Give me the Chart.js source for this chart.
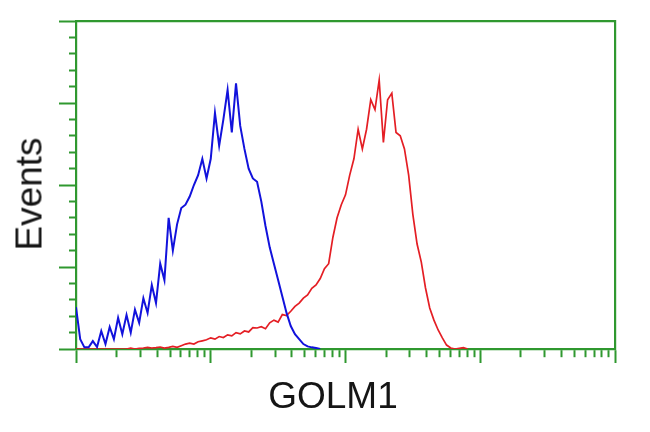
<!DOCTYPE html>
<html>
<head>
<meta charset="utf-8">
<script src="https://cdn.jsdelivr.net/npm/chart.js@4"></script>
<style>
  html, body { margin: 0; padding: 0; background: #ffffff; }
  #wrap { position: relative; width: 650px; height: 432px; overflow: hidden; }
  .axt { position: absolute; font-family: "Liberation Sans", Arial, sans-serif; font-size: 37px; line-height: 37px; color: #151515; white-space: nowrap; transform: translate(-50%, -50%); }
</style>
</head>
<body>
<div id="wrap">
  <canvas id="c" width="650" height="432"></canvas>
  <div class="axt" style="left:333px; top:395px;">GOLM1</div>
  <div class="axt" style="left:29px; top:194px; transform: translate(-50%, -50%) rotate(-90deg);">Events</div>
</div>
<script>
// Histogram bins: channel numbers (0-256 over 4 log decades), counts in % of max
const blueCounts = [12.8, 3, 0.5, 0.5, 2.4, 0.6, 5.5, 1.5, 6.7, 3, 9.5, 4.5, 10.4, 5, 12, 8, 15.5, 11, 19.5, 14,
  26, 21, 40, 30, 38, 43, 44, 46.5, 50, 53, 58, 52, 58, 72, 62, 70, 79, 66, 81, 68,
  61, 55, 52, 51, 45, 37.5, 31, 26, 21, 16, 11, 7, 4.5, 3, 1.5, 0.8, 0.5, 0.3, 0];
const redCounts = [0, 0, 0, 0, 0, 0, 0, 0, 0, 0, 0, 0, 0, 0.3, 0, 0.2, 0.3, 0.5, 0.3, 0.4,
  0.6, 0.3, 0.5, 0.8, 0.5, 1, 1.5, 1.8, 1.5, 2.2, 2.5, 2.8, 3.4, 3, 3.8, 3.5, 4.3, 4, 5, 4.6,
  5.5, 5.2, 6.5, 6.4, 6.8, 6.2, 8, 8.8, 8.2, 10.5, 10.2, 11.5, 13, 14, 15.5, 16.5, 18.5, 19.5, 21.5, 24.5,
  26, 34, 40, 44, 47, 53, 58, 67, 61, 67, 76, 73, 82, 63, 76, 78, 66, 65, 61, 53,
  41, 32, 26.5, 18.6, 12.5, 8.8, 5.8, 3.4, 1.2, 0.3, 0, 0.2, 0.4, 0];
const binChannels = redCounts.map((_, i) => i * 2);
const decadeChannels = 64;   // channels per log decade
const decades = 4;

const toPoints = (counts) => counts.map((v, i) => ({ x: binChannels[i], y: v }));

const GREEN = '#2f982f';
const minorDash = (pattern) => (ctx) => (ctx.tick && ctx.tick.major) ? [] : pattern;

new Chart(document.getElementById('c'), {
  type: 'line',
  data: {
    datasets: [
      { label: 'Control', data: toPoints(blueCounts), borderColor: '#1212dc', borderWidth: 2,
        pointRadius: 0, tension: 0, fill: false },
      { label: 'GOLM1', data: toPoints(redCounts), borderColor: '#e41e24', borderWidth: 1.7,
        pointRadius: 0, tension: 0, fill: false }
    ]
  },
  options: {
    responsive: false,
    animation: false,
    devicePixelRatio: 1,
    layout: { padding: 0 },
    plugins: { legend: { display: false }, tooltip: { enabled: false } },
    scales: {
      x: {
        type: 'linear', position: 'bottom', min: 0, max: decadeChannels * decades,
        afterBuildTicks: (scale) => {
          const t = [];
          for (let d = 0; d < decades; d++) {
            for (let k = 1; k < 10; k++) t.push({ value: decadeChannels * (d + Math.log10(k)), major: k === 1 });
          }
          t.push({ value: decadeChannels * decades, major: true });
          scale.ticks = t;
        },
        afterFit: (scale) => { scale.height = 83; },
        ticks: { display: false, autoSkip: false },
        grid: { display: true, drawOnChartArea: false, drawTicks: true, tickLength: 14,
          tickColor: GREEN, tickWidth: 2, tickBorderDash: minorDash([7, 200]) },
        border: { display: true, color: GREEN, width: 2.2 }
      },
      x2: {
        type: 'linear', position: 'top', min: 0, max: decadeChannels * decades,
        afterFit: (scale) => { scale.height = 21; },
        ticks: { display: false },
        grid: { display: false },
        border: { display: true, color: GREEN, width: 2.2 }
      },
      y: {
        type: 'linear', position: 'left', min: 0, max: 100,
        afterBuildTicks: (scale) => {
          scale.ticks = scale.ticks.map(t => ({ value: t.value, major: t.value % 25 === 0 }));
        },
        afterFit: (scale) => { scale.width = 76; },
        ticks: { display: false, stepSize: 5, autoSkip: false },
        grid: { display: true, drawOnChartArea: false, drawTicks: true, tickLength: 17,
          tickColor: GREEN, tickWidth: 2, tickBorderDash: minorDash([0, 10, 8, 200]) },
        border: { display: true, color: GREEN, width: 2.2 }
      },
      y2: {
        type: 'linear', position: 'right', min: 0, max: 100,
        afterFit: (scale) => { scale.width = 35; },
        ticks: { display: false },
        grid: { display: false },
        border: { display: true, color: GREEN, width: 2.2 }
      }
    }
  }
});
</script>
</body>
</html>
